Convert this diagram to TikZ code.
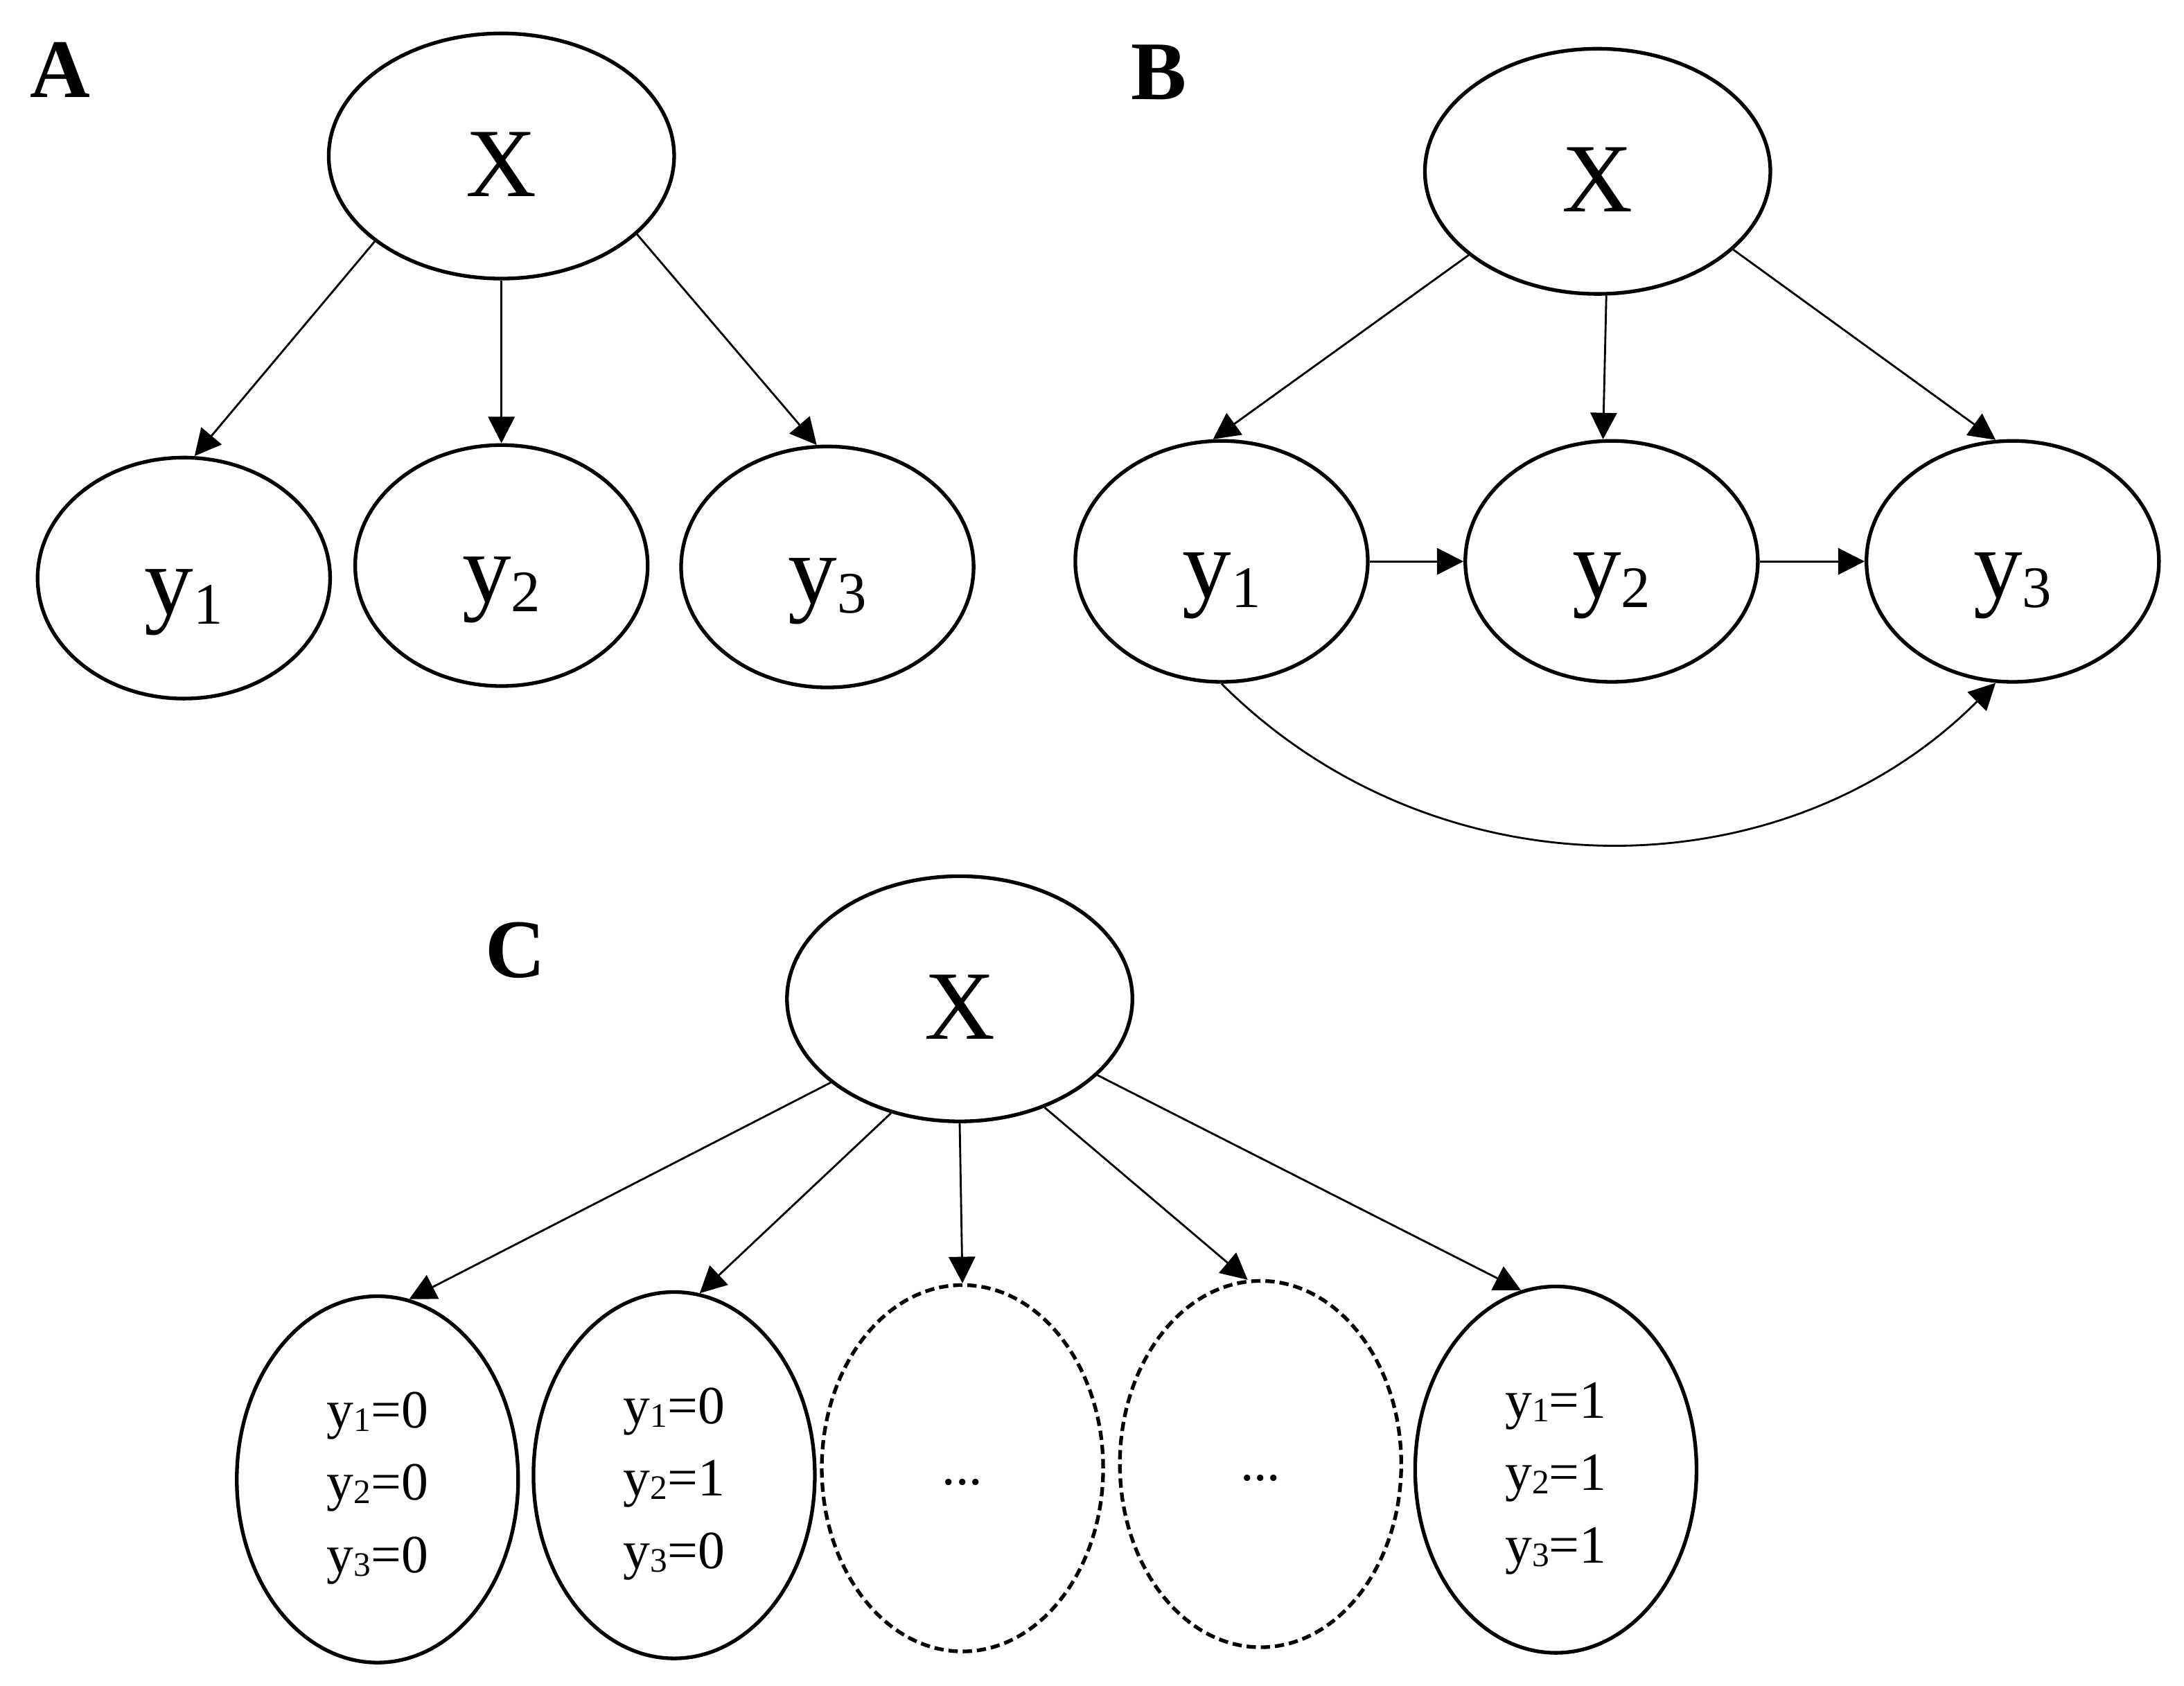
\documentclass[tikz,border=0pt]{standalone}
\usepackage{fontspec}
\setmainfont{Liberation Serif}
\usetikzlibrary{shapes.geometric,arrows.meta}
\newcommand{\bigsub}[1]{\raisebox{-2pt}{\fontsize{12}{12}\selectfont #1}}
\newcommand{\smallsub}[1]{\raisebox{-0.7pt}{\fontsize{7}{7}\selectfont #1}}

\begin{document}
\begin{tikzpicture}[x=1cm,y=1cm,
    leaf/.style={draw,ellipse,line width=0.75pt,inner sep=0pt,minimum width=2.1cm,minimum height=1.73cm,
      font=\fontsize{20}{24}\selectfont,text height=0.67cm,text depth=0.15cm},
    root/.style={leaf,minimum width=2.48cm,minimum height=1.76cm,text height=0.58cm,text depth=0cm},
    cell/.style={draw,ellipse,line width=0.75pt,inner sep=0pt,minimum width=2.02cm,minimum height=2.63cm,
      align=center,font=\fontsize{11}{14.8}\selectfont,text height=1.42cm,text depth=0.08cm},
    cellgap/.style={cell,dash pattern=on 1.9pt off 1pt,text height=0.24cm,text depth=0cm},
    link/.style={-{Triangle[length=5.4pt,width=5.4pt]},line width=0.4pt},
    panel/.style={font=\fontsize{17}{20}\selectfont\bfseries}]
  \useasboundingbox (0,0) rectangle (15.68,-12.10);
  % A
  \node[panel] (labA) at (0.43,-0.50) {A};
  \node[root] (xA) at (3.60,-1.12) {X};
  \node[leaf] (y1A) at (1.32,-4.15) {y\bigsub{1}};
  \node[leaf] (y2A) at (3.60,-4.06) {y\bigsub{2}};
  \node[leaf] (y3A) at (5.94,-4.07) {y\bigsub{3}};
  \draw[link] (xA.-146) -- (y1A.85);
  \draw[link] (xA.south) -- (y2A.north);
  \draw[link] (xA.-30) -- (y3A.95);
  % B
  \node[panel] (labB) at (8.32,-0.52) {B};
  \node[root] (xB) at (11.47,-1.23) {X};
  \node[leaf] (y1B) at (8.77,-4.03) {y\bigsub{1}};
  \node[leaf] (y2B) at (11.57,-4.03) {y\bigsub{2}};
  \node[leaf] (y3B) at (14.45,-4.03) {y\bigsub{3}};
  \draw[link] (xB.-147) -- (y1B.94);
  \draw[link] (xB.-86) -- (y2B.94);
  \draw[link] (xB.-30) -- (y3B.98);
  \draw[link] (y1B.east) -- (y2B.west);
  \draw[link] (y2B.east) -- (y3B.west);
  \draw[link] (y1B.south) to[out=-45,in=-135] (y3B.-98);
  % C
  \node[panel] (labC) at (3.70,-6.82) {C};
  \node[root] (xC) at (6.89,-7.17) {X};
  \node[cell] (c1) at (2.71,-10.62) {y\smallsub{1}=0\\y\smallsub{2}=0\\y\smallsub{3}=0};
  \node[cell] (c2) at (4.84,-10.59) {y\smallsub{1}=0\\y\smallsub{2}=1\\y\smallsub{3}=0};
  \node[cellgap] (c3) at (6.91,-10.54) {...};
  \node[cellgap] (c4) at (9.05,-10.51) {...};
  \node[cell] (c5) at (11.17,-10.55) {y\smallsub{1}=1\\y\smallsub{2}=1\\y\smallsub{3}=1};
  \draw[link] (xC.-147) -- (c1.80);
  \draw[link] (xC.-121) -- (c2.82);
  \draw[link] (xC.south) -- (c3.north);
  \draw[link] (xC.-52) -- (c4.94);
  \draw[link] (xC.-29) -- (c5.101);
\end{tikzpicture}
\end{document}
